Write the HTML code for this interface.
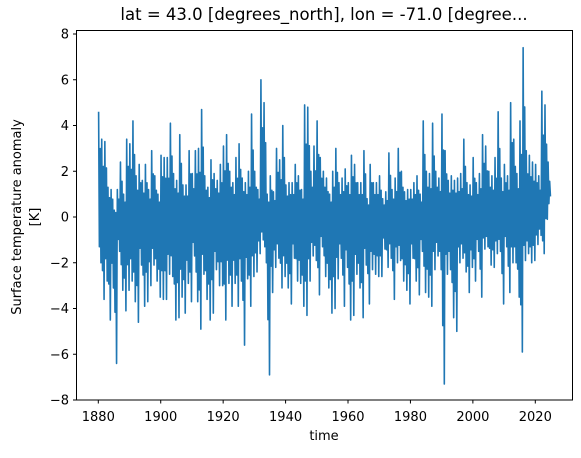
<!DOCTYPE html>
<html><head><meta charset="utf-8"><style>
body{margin:0;background:#fff}
svg text{font-family:"DejaVu Sans","Liberation Sans",sans-serif;font-size:13px;fill:#000}
</style></head><body>
<svg id="chart" width="581" height="453" xmlns="http://www.w3.org/2000/svg">
<text x="324" y="20" text-anchor="middle" style="font-size:16.5px">lat = 43.0 [degrees_north], lon = -71.0 [degree...</text>
<g>
<text x="21" y="217" text-anchor="middle" transform="rotate(-90 21 217)">Surface temperature anomaly</text>
<text x="39" y="217" text-anchor="middle" transform="rotate(-90 39 217)">[K]</text>
</g>
<text x="324" y="440" text-anchor="middle">time</text>
<g id="series"></g>
<g id="xticks"></g>
<g id="yticks"></g>
<rect x="76.5" y="30.5" width="496" height="369.5" fill="none" stroke="#000" stroke-width="1"/>
</svg>
<script>
const startYear = 1880;
const annualHigh = [4.6,3.4,3.3,1.3,1.2,0.3,1.2,2.4,1.0,3.4,
3.2,4.2,1.8,2.3,1.6,2.3,1.2,2.9,1.8,1.0,
2.7,2.6,2.6,4.1,1.9,1.6,3.6,1.4,1.4,2.9,
1.9,2.9,3.0,4.7,1.8,1.3,2.5,1.9,1.6,2.3,
3.1,3.6,2.0,1.5,2.6,3.2,1.7,1.5,2.0,4.5,
2.0,1.2,6.0,5.0,1.0,1.8,1.1,3.0,2.5,4.0,
1.4,1.5,1.5,2.3,1.8,1.2,4.9,4.8,2.0,3.1,
4.2,2.6,2.0,1.7,1.0,2.0,3.0,1.5,1.7,2.1,
1.5,2.7,2.3,1.5,1.5,2.9,0.8,2.3,1.5,1.5,
1.8,0.8,1.1,2.8,1.2,1.7,3.0,2.0,1.1,1.2,
1.2,1.5,1.8,1.0,4.2,2.0,1.9,4.1,2.0,1.7,
4.5,2.9,1.6,1.8,1.6,1.7,1.9,3.4,1.5,1.4,
2.6,1.5,1.9,3.6,3.1,2.0,1.8,2.6,4.6,1.7,
2.3,1.8,5.0,3.4,1.9,4.2,7.4,2.9,2.7,2.4,
2.3,1.8,5.5,4.9,2.4];
const annualLow = [-2.0,-3.6,-2.8,-4.5,-3.1,-6.4,-1.5,-3.2,-4.1,-3.2,
-2.8,-3.7,-4.6,-2.1,-3.9,-3.7,-3.0,-2.1,-2.8,-3.5,
-3.6,-3.6,-2.5,-2.6,-4.5,-4.4,-3.5,-4.2,-2.9,-3.7,
-1.7,-3.7,-4.9,-2.5,-3.6,-4.5,-4.2,-2.3,-3.0,-3.0,
-4.5,-2.9,-3.9,-2.9,-3.9,-2.8,-5.6,-2.7,-3.9,-2.6,
-2.4,-1.6,-1.0,-2.0,-6.9,-3.3,-2.2,-1.8,-3.1,-2.6,
-3.1,-3.8,-1.8,-2.8,-2.9,-3.9,-4.3,-2.8,-1.7,-1.9,
-3.4,-1.3,-2.6,-3.1,-4.2,-4.0,-2.7,-1.8,-3.9,-2.2,
-4.5,-4.3,-2.5,-3.1,-4.4,-2.1,-3.8,-2.3,-2.5,-2.6,
-2.6,-1.4,-2.2,-1.8,-3.6,-2.0,-1.9,-2.8,-3.2,-3.8,
-1.8,-2.8,-3.4,-1.5,-3.3,-3.5,-3.9,-2.3,-1.7,-2.3,
-7.3,-2.5,-2.3,-4.4,-5.0,-2.0,-1.8,-2.4,-3.3,-2.2,
-2.8,-1.5,-3.5,-1.4,-1.3,-2.1,-2.2,-1.6,-1.5,-3.8,
-1.3,-3.3,-2.0,-2.0,-3.5,-5.9,-1.9,-1.6,-2.0,-1.9,
-1.2,-0.8,-1.6,-0.1,0.9];
const xTickLabels = [1880,1900,1920,1940,1960,1980,2000,2020];
const yTickLabels = [-8,-6,-4,-2,0,2,4,6,8];

const NS = "http://www.w3.org/2000/svg";
function xScale(yr){ return 98.3 + (yr - 1880) * (437 / 140); }
function yScale(v){ return 217 - v * (183 / 8); }

const pts = [];
for (let i = 0; i < annualHigh.length; i++) {
  const y0 = startYear + i;
  pts.push(xScale(y0 + 0.1).toFixed(2) + "," + yScale(annualHigh[i]).toFixed(2));
  pts.push(xScale(y0 + 0.35).toFixed(2) + "," + yScale(annualLow[i] * 0.65).toFixed(2));
  pts.push(xScale(y0 + 0.6).toFixed(2) + "," + yScale(annualHigh[i] * 0.65).toFixed(2));
  pts.push(xScale(y0 + 0.85).toFixed(2) + "," + yScale(annualLow[i]).toFixed(2));
}
const line = document.createElementNS(NS, "polyline");


line.setAttribute("points", pts.join(" "));
line.setAttribute("fill", "none");
line.setAttribute("stroke", "#1f77b4");
line.setAttribute("stroke-width", "1.6");
line.setAttribute("stroke-linejoin", "round");
document.getElementById("series").appendChild(line);

const xg = document.getElementById("xticks");
xTickLabels.forEach(t => {
  const x = xScale(t);
  const tk = document.createElementNS(NS, "line");
  
  
  tk.setAttribute("x1", x); tk.setAttribute("x2", x);
  tk.setAttribute("y1", 400); tk.setAttribute("y2", 403.5);
  tk.setAttribute("stroke", "#000");
  xg.appendChild(tk);
  const tx = document.createElementNS(NS, "text");
  
  
  tx.setAttribute("x", x); tx.setAttribute("y", 421);
  tx.setAttribute("text-anchor", "middle");
  tx.textContent = t;
  xg.appendChild(tx);
});
const yg = document.getElementById("yticks");
yTickLabels.forEach(t => {
  const y = yScale(t);
  const tk = document.createElementNS(NS, "line");
  
  
  tk.setAttribute("x1", 73); tk.setAttribute("x2", 76.5);
  tk.setAttribute("y1", y); tk.setAttribute("y2", y);
  tk.setAttribute("stroke", "#000");
  yg.appendChild(tk);
  const tx = document.createElementNS(NS, "text");
  
  
  tx.setAttribute("x", 69); tx.setAttribute("y", y + 4.5);
  tx.setAttribute("text-anchor", "end");
  tx.textContent = t < 0 ? "\u2212" + Math.abs(t) : t;
  yg.appendChild(tx);
});
</script>
</body></html>
